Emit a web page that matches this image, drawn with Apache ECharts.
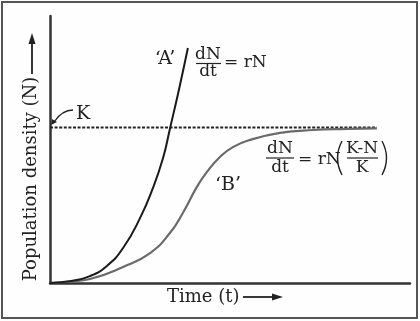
<!DOCTYPE html>
<html>
<head>
<meta charset="utf-8">
<script src="https://cdn.jsdelivr.net/npm/echarts@6/dist/echarts.min.js"></script>
<style>html,body{margin:0;padding:0;background:#fefefe}#c{width:420px;height:321px}</style>
</head>
<body>
<div id="c"></div>
<script>
// Exponential growth curve 'A'
var aTime = [0, 5.6, 11.1, 15.8, 20.3, 25.0, 28.6, 31.4, 33.3, 35.8, 38.3];
var aPop  = [0, 0.7, 2.6, 6.4, 13.1, 24.3, 35.6, 46.8, 57.7, 72.3, 88.0];
// Logistic growth curve 'B'
var bTime = [0, 5.6, 11.1, 20.3, 27.8, 33.3, 36.9, 40.8, 43.6, 47.2, 50.8, 55.6, 63.9, 73.1, 82.5, 90.8];
var bPop  = [0, 0.6, 1.5, 6.0, 11.2, 18.7, 26.2, 36.0, 41.6, 47.2, 50.9, 53.6, 56.2, 57.3, 57.7, 57.9];
// Carrying capacity K
var kTime = [0, 90.8];
var kValue = 58.2;

function pairs(xs, ys) { return xs.map(function (x, i) { return [x, ys[i]]; }); }

var serif = '"DejaVu Serif", "Liberation Serif", serif';
var ink = '#222';

var chart = echarts.init(document.getElementById('c'), null, {renderer: 'canvas'});
chart.setOption({
  backgroundColor: '#fefefe',
  animation: false,
  grid: {left: 50, right: 10, top: 16, bottom: 38},
  xAxis: {type: 'value', min: 0, max: 100,
    axisLine: {show: true, onZero: false, lineStyle: {color: '#333', width: 2.5}},
    axisTick: {show: false}, axisLabel: {show: false}, splitLine: {show: false}},
  yAxis: {type: 'value', min: 0, max: 100,
    axisLine: {show: true, onZero: false, lineStyle: {color: '#333', width: 2.5}},
    axisTick: {show: false}, axisLabel: {show: false}, splitLine: {show: false}},
  series: [
    {type: 'line', name: 'K', data: pairs(kTime, kTime.map(function(){return kValue;})),
      symbol: 'none', lineStyle: {color: ink, width: 2, type: [3, 1.6]}},
    {type: 'line', name: 'B', data: pairs(bTime, bPop), smooth: 0.5,
      symbol: 'none', lineStyle: {color: '#6a6a6a', width: 2.2}},
    {type: 'line', name: 'A', data: pairs(aTime, aPop), smooth: 0.5,
      symbol: 'none', lineStyle: {color: '#1a1a1a', width: 2}}
  ],
  graphic: [
    {type: 'rect', shape: {x: 2, y: 2, width: 415, height: 316}, style: {fill: null, stroke: '#555', lineWidth: 2}, silent: true},
    // axis names
    {type: 'text', x: 167, y: 297, style: {text: 'Time (t)', font: '18px ' + serif, fill: ink, verticalAlign: 'middle'}},
    {type: 'line', shape: {x1: 243, y1: 297, x2: 274, y2: 297}, style: {stroke: ink, lineWidth: 1.8}},
    {type: 'polygon', shape: {points: [[272, 293.5], [272, 300.5], [283, 297]]}, style: {fill: ink}},
    {type: 'text', x: 31, y: 179, rotation: Math.PI / 2, style: {text: 'Population density (N)', font: '18px ' + serif, fill: ink, align: 'center', verticalAlign: 'middle'}},
    {type: 'line', shape: {x1: 32, y1: 74, x2: 32, y2: 42}, style: {stroke: ink, lineWidth: 1.8}},
    {type: 'polygon', shape: {points: [[28.5, 44], [35.5, 44], [32, 33]]}, style: {fill: ink}},
    // K label and arrow
    {type: 'text', x: 83, y: 114, style: {text: 'K', font: '19px ' + serif, fill: ink, align: 'center', verticalAlign: 'middle'}},
    {type: 'bezierCurve', shape: {x1: 73, y1: 110, x2: 54, y2: 122, cpx1: 62, cpy1: 110}, style: {stroke: ink, lineWidth: 1.3, fill: null}},
    {type: 'polygon', shape: {points: [[51, 125], [52, 119], [57, 122]]}, style: {fill: ink}},
    // curve labels
    {type: 'text', x: 165, y: 59, style: {text: '\u2018A\u2019', font: '19px ' + serif, fill: ink, align: 'center', verticalAlign: 'middle'}},
    {type: 'text', x: 228, y: 185, style: {text: '\u2018B\u2019', font: '19px ' + serif, fill: ink, align: 'center', verticalAlign: 'middle'}},
    // equation A
    {type: 'text', x: 208, y: 55, style: {text: 'dN', font: '17px ' + serif, fill: ink, align: 'center', verticalAlign: 'middle'}},
    {type: 'line', shape: {x1: 196, y1: 63.5, x2: 221, y2: 63.5}, style: {stroke: ink, lineWidth: 1.2}},
    {type: 'text', x: 208, y: 72, style: {text: 'dt', font: '17px ' + serif, fill: ink, align: 'center', verticalAlign: 'middle'}},
    {type: 'text', x: 224, y: 63, style: {text: '= rN', font: '17px ' + serif, fill: ink, align: 'left', verticalAlign: 'middle'}},
    // equation B
    {type: 'text', x: 280, y: 149, style: {text: 'dN', font: '17px ' + serif, fill: ink, align: 'center', verticalAlign: 'middle'}},
    {type: 'line', shape: {x1: 266, y1: 158, x2: 294, y2: 158}, style: {stroke: ink, lineWidth: 1.2}},
    {type: 'text', x: 280, y: 168, style: {text: 'dt', font: '17px ' + serif, fill: ink, align: 'center', verticalAlign: 'middle'}},
    {type: 'text', x: 298, y: 160, style: {text: '= rN', font: '17px ' + serif, fill: ink, align: 'left', verticalAlign: 'middle'}},
    {type: 'bezierCurve', shape: {x1: 342, y1: 141, x2: 342, y2: 175, cpx1: 333, cpy1: 158}, style: {stroke: ink, lineWidth: 1.4, fill: null}},
    {type: 'text', x: 362, y: 149, style: {text: 'K-N', font: '17px ' + serif, fill: ink, align: 'center', verticalAlign: 'middle'}},
    {type: 'line', shape: {x1: 347, y1: 158, x2: 378, y2: 158}, style: {stroke: ink, lineWidth: 1.2}},
    {type: 'text', x: 362, y: 168, style: {text: 'K', font: '17px ' + serif, fill: ink, align: 'center', verticalAlign: 'middle'}},
    {type: 'bezierCurve', shape: {x1: 382, y1: 141, x2: 382, y2: 175, cpx1: 391, cpy1: 158}, style: {stroke: ink, lineWidth: 1.4, fill: null}}
  ]
});
</script>
</body>
</html>
